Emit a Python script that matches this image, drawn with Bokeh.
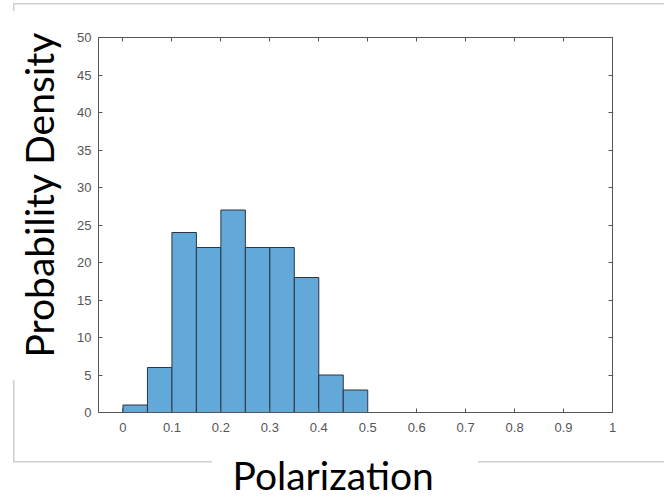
from bokeh.plotting import figure
from bokeh.models import Range1d, LinearAxis, FixedTicker, Title
from bokeh.embed import file_html
from bokeh.resources import INLINE

# ---- data ----
bin_left = [0.00, 0.05, 0.10, 0.15, 0.20, 0.25, 0.30, 0.35, 0.40, 0.45]
bin_right = [0.05, 0.10, 0.15, 0.20, 0.25, 0.30, 0.35, 0.40, 0.45, 0.50]
density = [1, 6, 24, 22, 27, 22, 22, 18, 5, 3]
x_ticks = [0, 0.1, 0.2, 0.3, 0.4, 0.5, 0.6, 0.7, 0.8, 0.9, 1.0]
x_tick_labels = ["0", "0.1", "0.2", "0.3", "0.4", "0.5", "0.6", "0.7", "0.8", "0.9", "1"]
y_ticks = [0, 5, 10, 15, 20, 25, 30, 35, 40, 45, 50]
x_title = "Polarization"
y_title = "Probability Density"

# ---- layout constants ----
FL, FT, FW, FH = 98, 37, 514, 375

p = figure(frame_width=FW, frame_height=FH,
           min_border_left=FL, min_border_right=664 - FL - FW,
           min_border_top=FT, min_border_bottom=499 - FT - FH,
           x_range=Range1d(-0.05, 1.0), y_range=Range1d(0, 50),
           x_axis_location=None, y_axis_location=None,
           output_backend="svg", toolbar_location=None)
p.background_fill_color = "white"
p.border_fill_color = None
p.outline_line_color = None
p.xgrid.visible = False
p.ygrid.visible = False

# faint outer border of the original screenshot, broken by the titles
g = "linear-gradient(#cfcfcf,#cfcfcf)"
p.styles = {
    "background-color": "white",
    "background-image": ", ".join([g] * 5),
    "background-repeat": "no-repeat",
    "background-position": "13px 3px, 13px 3px, 13px 380px, 13px 461px, 478px 461px",
    "background-size": "660px 1.5px, 1.5px 8px, 1.5px 82px, 199px 1.5px, 190px 1.5px",
}

p.quad(left=bin_left, right=bin_right, bottom=0, top=density,
       fill_color="#62A8D8", line_color="#2B3640", line_width=1)

ax_col = "#555555"
xb = LinearAxis()
xt = LinearAxis()
yl = LinearAxis()
yr = LinearAxis()
p.add_layout(xb, "below")
p.add_layout(xt, "above")
p.add_layout(yl, "left")
p.add_layout(yr, "right")
for ax in (xb, xt):
    ax.ticker = FixedTicker(ticks=x_ticks)
    ax.major_label_overrides = {t: l for t, l in zip(x_ticks, x_tick_labels)}
for ax in (yl, yr):
    ax.ticker = FixedTicker(ticks=y_ticks)
for ax in (xb, xt, yl, yr):
    ax.axis_line_color = ax_col
    ax.axis_line_width = 1
    ax.major_tick_line_color = ax_col
    ax.major_tick_in = 4
    ax.major_tick_out = 0
    ax.minor_tick_line_color = None
    ax.major_label_text_font = "Liberation Sans"
    ax.major_label_text_font_size = "13px"
    ax.major_label_text_color = "#555555"
for ax in (xt, yr):
    ax.major_label_text_alpha = 0
    ax.major_label_text_font_size = "1px"
xb.major_label_standoff = 10
yl.major_label_standoff = 7

p.add_layout(Title(text=x_title, align="left", offset=134, standoff=30,
                   text_font="Lato", text_font_size="39px",
                   text_font_style="normal", text_color="black"), "below")
p.add_layout(Title(text=y_title, align="left", offset=55, standoff=25,
                   text_font="Lato", text_font_size="39px",
                   text_font_style="normal", text_color="black"), "left")

open("out.html", "w").write(file_html(p, INLINE))
